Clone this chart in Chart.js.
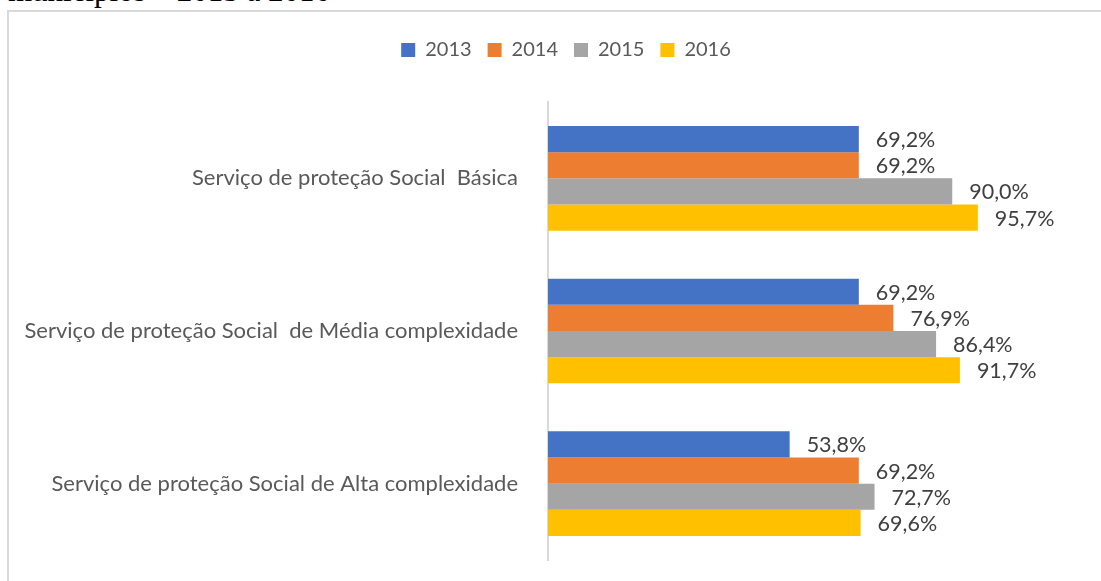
<!DOCTYPE html>
<html>
<head>
<meta charset="utf-8">
<script src="https://cdn.jsdelivr.net/npm/chart.js@4"></script>
<style>
  html, body { margin: 0; padding: 0; background: #fff; overflow: hidden; width: 1101px; height: 581px; }
  .caption {
    position: absolute; left: 8px; top: -25px;
    font-family: 'Liberation Serif', 'DejaVu Serif', serif; font-size: 31px; line-height: 1; color: #000;
    white-space: nowrap;
  }
  .frame {
    position: absolute; left: 7px; top: 10px;
    width: 1114px; height: 600px;
    border: 2px solid #d9d9d9;
  }
</style>
</head>
<body>
<div class="caption">municípios – 2013 a 2016</div>
<div class="frame"><canvas id="barChart"></canvas></div>
<script>
// 데이터
const categories = [
  'Serviço de proteção Social  Básica',
  'Serviço de proteção Social  de Média complexidade',
  'Serviço de proteção Social de Alta complexidade',
];
const years = ['2013', '2014', '2015', '2016'];
const values2013 = [69.2, 69.2, 53.8];
const values2014 = [69.2, 76.9, 69.2];
const values2015 = [90.0, 86.4, 72.7];
const values2016 = [95.7, 91.7, 69.6];
const seriesValues = [values2013, values2014, values2015, values2016];
const colors = ['#4472C4', '#ED7D31', '#A5A5A5', '#FFC000'];

const FONT = "Lato, 'Open Sans', sans-serif";

// 막대 끝에 값 표시
const barLabels = {
  id: 'barLabels',
  afterDatasetsDraw(chart) {
    const c = chart.ctx;
    c.save();
    c.font = '21.5px ' + FONT;
    c.fillStyle = '#404040';
    c.textAlign = 'left';
    c.textBaseline = 'middle';
    chart.data.datasets.forEach((ds, i) => {
      chart.getDatasetMeta(i).data.forEach((bar, j) => {
        const txt = ds.data[j].toFixed(1).replace('.', ',') + '%';
        c.fillText(txt, bar.x + 17, bar.y + 1);
      });
    });
    c.restore();
  },
};

// 범례를 프레임 가운데로 이동
const legendShift = {
  id: 'legendShift',
  afterLayout(chart) {
    chart.legend.left += 18;
    chart.legend.right += 18;
  },
};

new Chart(document.getElementById('barChart'), {
  type: 'bar',
  plugins: [barLabels, legendShift],
  data: {
    labels: categories,
    datasets: years.map((y, i) => ({
      label: y,
      data: seriesValues[i],
      backgroundColor: colors[i],
      borderWidth: 0,
    })),
  },
  options: {
    indexAxis: 'y',
    responsive: true,
    maintainAspectRatio: false,
    animation: false,
    categoryPercentage: 0.686,
    barPercentage: 1,
    layout: { padding: { top: 12, right: 36, bottom: 52, left: 0 } },
    plugins: {
      legend: {
        position: 'top',
        labels: {
          boxWidth: 14,
          boxHeight: 14,
          padding: 16,
          color: '#595959',
          font: { family: FONT, size: 20 },
        },
      },
      tooltip: { enabled: false },
    },
    scales: {
      x: {
        position: 'top',
        min: 0,
        max: 120,
        ticks: { display: false },
        grid: { display: false },
        border: { display: false },
        afterFit: (s) => { s.height = 32; },
      },
      y: {
        grid: { display: false },
        border: { display: true, color: '#d9d9d9', width: 2 },
        ticks: {
          color: '#595959',
          padding: 22,
          font: { family: FONT, size: 22 },
        },
        afterFit: (s) => { s.width = 539; },
      },
    },
  },
});
</script>
</body>
</html>
